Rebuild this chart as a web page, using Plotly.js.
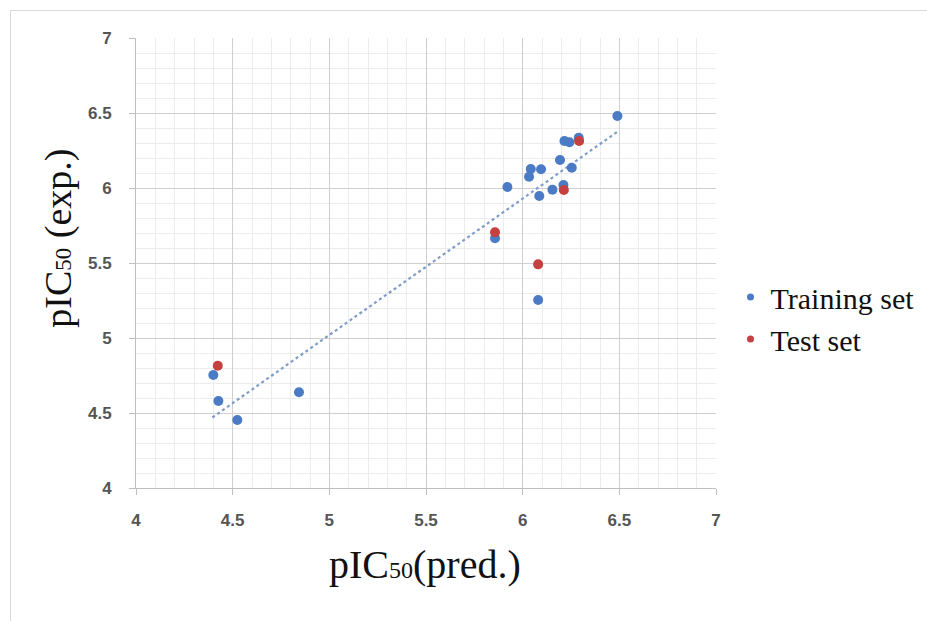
<!DOCTYPE html>
<html>
<head>
<meta charset="utf-8">
<script src="https://cdn.plot.ly/plotly-3.0.1.min.js"></script>
<style>
  html, body { margin: 0; padding: 0; background: #ffffff; }
  #frame { position: absolute; left: 10px; top: 10px; width: 940px; height: 640px;
           border-left: 1px solid #d9d9d9; border-top: 1px solid #d9d9d9; pointer-events: none; }
  #chart { width: 927px; height: 621px; }
</style>
</head>
<body>
<div id="chart"></div>
<div id="frame"></div>
<script>
// Training set (predicted, experimental)
const trainPred = [6.49, 6.216, 6.242, 6.29, 6.193, 6.042, 6.095, 6.033, 6.254, 5.921, 6.154, 6.211, 6.086, 5.857, 6.08, 4.40, 4.426, 4.524, 4.843];
const trainExp  = [6.48, 6.313, 6.305, 6.335, 6.187, 6.127, 6.125, 6.075, 6.135, 6.007, 5.989, 6.02, 5.947, 5.665, 5.253, 4.753, 4.58, 4.453, 4.638];
// Test set
const testPred = [6.292, 6.213, 5.857, 6.08, 4.423];
const testExp  = [6.313, 5.987, 5.705, 5.491, 4.815];
// Linear trend line endpoints
const trendX = [4.395, 6.49];
const trendY = [4.47, 6.375];
// Axis ticks
const tickVals = [4, 4.5, 5, 5.5, 6, 6.5, 7];
const tickText = ["4", "4.5", "5", "5.5", "6", "6.5", "7"];
const seriesNames = ["Training set", "Test set"];
const xTitle = 'pIC<span style="font-size:24px">50</span>(pred.)';
const yTitle = 'pIC<span style="font-size:23px">50</span> (exp.)';

const blue = "#4a7bc4";
const red = "#c4413f";

const traces = [
  { x: trendX, y: trendY, mode: "lines", type: "scatter", showlegend: false, hoverinfo: "skip",
    line: { color: "#7f9cc9", width: 2.2, dash: "dot" } },
  { x: trainPred, y: trainExp, mode: "markers", type: "scatter", name: seriesNames[0], showlegend: false,
    marker: { color: blue, size: 10 } },
  { x: testPred, y: testExp, mode: "markers", type: "scatter", name: seriesNames[1], showlegend: false,
    marker: { color: red, size: 10 } },
  { x: [null], y: [null], mode: "markers", type: "scatter", name: seriesNames[0], marker: { color: blue, size: 7 } },
  { x: [null], y: [null], mode: "markers", type: "scatter", name: seriesNames[1], marker: { color: red, size: 7 } }
];

const axisCommon = {
  range: [4, 7],
  tickvals: tickVals,
  ticktext: tickText,
  showgrid: true,
  gridcolor: "#cfcfcf",
  gridwidth: 1,
  minor: { dtick: 0.1, showgrid: true, gridcolor: "#ececec", gridwidth: 1, ticks: "" },
  zeroline: false,
  showline: true,
  linecolor: "#bfbfbf",
  linewidth: 1,
  ticks: "outside",
  ticklen: 6,
  tickcolor: "#bfbfbf",
  tickfont: { family: "Liberation Sans, Arial, sans-serif", size: 17, color: "#555555", weight: "bold" },
  fixedrange: true,
  automargin: false
};

const titleFont = { family: "Liberation Serif, Times New Roman, serif", size: 40, color: "#111111" };

const layout = {
  width: 927,
  height: 621,
  margin: { l: 136, r: 211, t: 38, b: 133, autoexpand: false },
  paper_bgcolor: "#ffffff",
  plot_bgcolor: "#ffffff",
  showlegend: true,
  legend: {
    x: 1.025, y: 0.378, xanchor: "left", yanchor: "middle",
    font: { family: "Liberation Serif, Times New Roman, serif", size: 30, color: "#111111" },
    tracegroupgap: 0, itemwidth: 30
  },
  xaxis: Object.assign({}, axisCommon, { ticklabelstandoff: 11 }),
  yaxis: Object.assign({}, axisCommon, { ticklabelstandoff: 14 }),
  annotations: [
    { text: xTitle, xref: "paper", yref: "paper", x: 0.498, y: -0.171, xanchor: "center", yanchor: "middle",
      showarrow: false, font: titleFont },
    { text: yTitle, xref: "paper", yref: "paper", x: -0.1328, y: 0.556, xanchor: "center", yanchor: "middle",
      textangle: -90, showarrow: false, font: Object.assign({}, titleFont, { size: 38 }) }
  ]
};

Plotly.newPlot("chart", traces, layout, { displayModeBar: false, staticPlot: true });
</script>
</body>
</html>
